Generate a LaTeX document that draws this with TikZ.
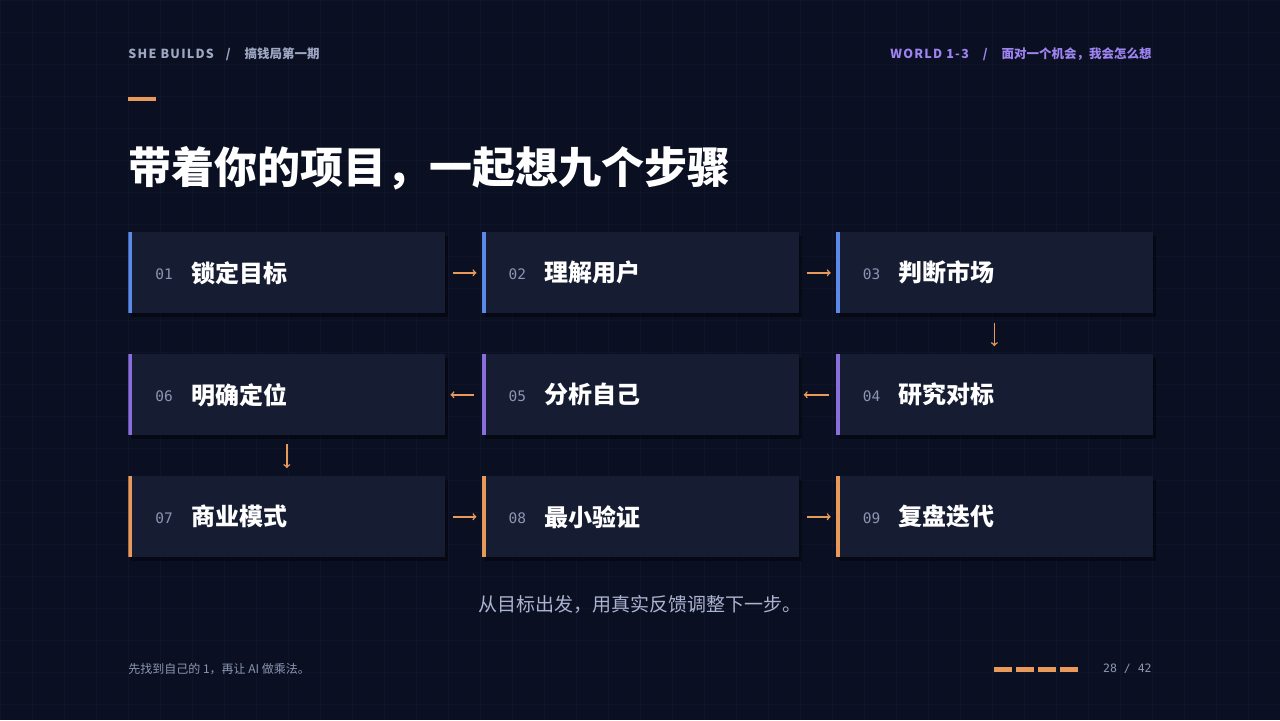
\documentclass[tikz,border=0pt]{standalone}
\usepackage{fontspec}
\setmainfont{Noto Sans CJK SC}
\newfontfamily\monofont{DejaVu Sans Mono}
\newfontfamily\trackfont[LetterSpace=10]{Noto Sans CJK SC}
\usetikzlibrary{arrows}
\usetikzlibrary{positioning}
\usetikzlibrary{shadows}
\definecolor{bgnavy}{HTML}{0A0F22}
\definecolor{gridline}{HTML}{0E1429}
\definecolor{cardfill}{HTML}{161D33}
\definecolor{accblue}{HTML}{5B8AE8}
\definecolor{accpurple}{HTML}{8A6FDC}
\definecolor{accorange}{HTML}{E99A5B}
\definecolor{numgrey}{HTML}{8C96B2}
\definecolor{hdrgrey}{HTML}{9FA8C3}
\definecolor{hdrpurple}{HTML}{9D84F0}
\definecolor{subgrey}{HTML}{AAB3D0}

\begin{document}
\begin{tikzpicture}[x=1pt,y=-1pt,
  card/.style={fill=cardfill, anchor=north west, minimum height=81pt,
    text width=263pt, inner xsep=27pt, inner ysep=0pt, align=left,
    drop shadow={shadow xshift=3pt, shadow yshift=-4pt, fill=black, opacity=.4},
    path picture={\fill[#1] (path picture bounding box.north west)
      rectangle ([xshift=4pt]path picture bounding box.south west);}},
  num/.style={font=\monofont\fontsize{14}{14}\selectfont, text=numgrey},
  flow/.style={->, line width=1.5pt, accorange}]
% background and grid
\fill[bgnavy] (0,0) rectangle (1280,720);
\draw[gridline, line width=.5pt, step=32pt] (0,0) grid (1280,720);
\useasboundingbox (0,0) rectangle (1280,720);

% header
\node[anchor=west, inner sep=0pt, text=hdrgrey, font=\bfseries\fontsize{12.5}{12.5}\selectfont] (brand) at (128,54)
  {{\trackfont SHE BUILDS}\hspace{12pt}/\hspace{14pt}搞钱局第一期};
\node[anchor=east, inner sep=0pt, text=hdrpurple, font=\bfseries\fontsize{12.5}{12.5}\selectfont] (world) at (1152,54)
  {{\trackfont WORLD 1-3}\hspace{14pt}/\hspace{14pt}面对一个机会，我会怎么想};
\fill[accorange] (128,97) rectangle (156,101);
\node[anchor=west, inner sep=0pt, text=white, font=\bfseries\fontsize{43}{43}\selectfont] (title) at (128,168)
  {带着你的项目，一起想九个步骤};

% nine steps
\node[card=accblue] (s1) at (128,232) {\makebox[36pt][l]{\raisebox{2.5pt}{\color{numgrey}\monofont\fontsize{14.5}{14.5}\selectfont 01}}{\color{white}\bfseries\fontsize{24}{24}\selectfont 锁定目标}};
\node[card=accblue, right=36pt of s1.north east, anchor=north west] (s2) {\makebox[36pt][l]{\raisebox{2.5pt}{\color{numgrey}\monofont\fontsize{14.5}{14.5}\selectfont 02}}{\color{white}\bfseries\fontsize{24}{24}\selectfont 理解用户}};
\node[card=accblue, right=37pt of s2.north east, anchor=north west] (s3) {\makebox[36pt][l]{\raisebox{2.5pt}{\color{numgrey}\monofont\fontsize{14.5}{14.5}\selectfont 03}}{\color{white}\bfseries\fontsize{24}{24}\selectfont 判断市场}};
\node[card=accpurple] (s6) at (128,354) {\makebox[36pt][l]{\raisebox{2.5pt}{\color{numgrey}\monofont\fontsize{14.5}{14.5}\selectfont 06}}{\color{white}\bfseries\fontsize{24}{24}\selectfont 明确定位}};
\node[card=accpurple, right=36pt of s6.north east, anchor=north west] (s5) {\makebox[36pt][l]{\raisebox{2.5pt}{\color{numgrey}\monofont\fontsize{14.5}{14.5}\selectfont 05}}{\color{white}\bfseries\fontsize{24}{24}\selectfont 分析自己}};
\node[card=accpurple, right=37pt of s5.north east, anchor=north west] (s4) {\makebox[36pt][l]{\raisebox{2.5pt}{\color{numgrey}\monofont\fontsize{14.5}{14.5}\selectfont 04}}{\color{white}\bfseries\fontsize{24}{24}\selectfont 研究对标}};
\node[card=accorange] (s7) at (128,476) {\makebox[36pt][l]{\raisebox{2.5pt}{\color{numgrey}\monofont\fontsize{14.5}{14.5}\selectfont 07}}{\color{white}\bfseries\fontsize{24}{24}\selectfont 商业模式}};
\node[card=accorange, right=36pt of s7.north east, anchor=north west] (s8) {\makebox[36pt][l]{\raisebox{2.5pt}{\color{numgrey}\monofont\fontsize{14.5}{14.5}\selectfont 08}}{\color{white}\bfseries\fontsize{24}{24}\selectfont 最小验证}};
\node[card=accorange, right=37pt of s8.north east, anchor=north west] (s9) {\makebox[36pt][l]{\raisebox{2.5pt}{\color{numgrey}\monofont\fontsize{14.5}{14.5}\selectfont 09}}{\color{white}\bfseries\fontsize{24}{24}\selectfont 复盘迭代}};

% flow arrows
\draw[flow, shorten <=8pt, shorten >=5pt] (s1.east) -- (s2.west);
\draw[flow, shorten <=8pt, shorten >=5pt] (s2.east) -- (s3.west);
\draw[flow, shorten <=9pt, shorten >=8pt] (s3.south) -- (s4.north);
\draw[flow, shorten <=7pt, shorten >=5pt] (s4.west) -- (s5.east);
\draw[flow, shorten <=7pt, shorten >=5pt] (s5.west) -- (s6.east);
\draw[flow, shorten <=9pt, shorten >=8pt] (s6.south) -- (s7.north);
\draw[flow, shorten <=8pt, shorten >=5pt] (s7.east) -- (s8.west);
\draw[flow, shorten <=8pt, shorten >=5pt] (s8.east) -- (s9.west);

% caption and footer
\node[inner sep=0pt, text=subgrey, font=\fontsize{19}{19}\selectfont] (motto) at (640,604)
  {从目标出发，用真实反馈调整下一步。};
\node[anchor=west, inner sep=0pt, text=numgrey, font=\fontsize{12}{12}\selectfont] (tip) at (128,669)
  {先找到自己的 1，再让 AI 做乘法。};
\fill[accorange] (994,667) rectangle (1012,672);
\fill[accorange] (1016,667) rectangle (1034,672);
\fill[accorange] (1038,667) rectangle (1056,672);
\fill[accorange] (1060,667) rectangle (1078,672);
\node[anchor=east, inner sep=0pt, num, font=\monofont\fontsize{11.5}{11.5}\selectfont] (page) at (1152,669) {28 / 42};
\end{tikzpicture}
\end{document}
